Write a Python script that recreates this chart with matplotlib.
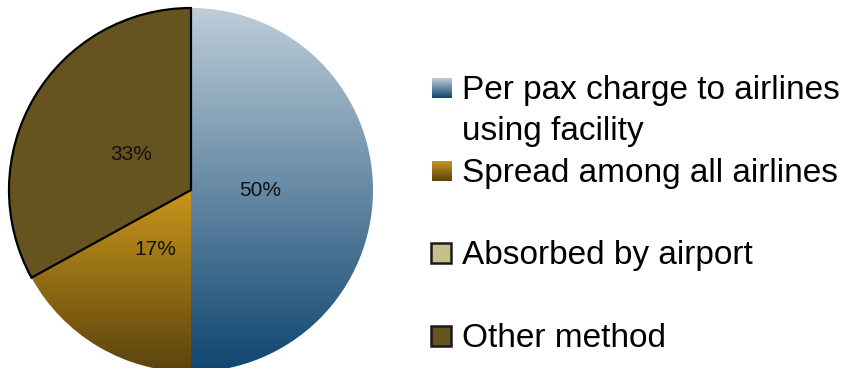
import numpy as np
import matplotlib
matplotlib.use('Agg')
from matplotlib import pyplot as plt
from matplotlib.colors import LinearSegmentedColormap
from matplotlib.patches import Rectangle

# chart data
labels = ['Per pax charge to airlines\nusing facility',
          'Spread among all airlines',
          'Absorbed by airport',
          'Other method']
shares = [50, 17, 0, 33]

# fills: top and bottom colour of each gradient
top_colors = ['#BDCDD9', '#C9961B', '#C8BE8A', '#665420']
bottom_colors = ['#0F4570', '#5B430F', '#C8BE8A', '#665420']
edge_colors = ['none', 'none', 'none', 'black']
legend_edges = ['none', 'none', '#1a1a1a', '#1a1a1a']

plt.rcParams['font.family'] = ['Liberation Sans', 'DejaVu Sans']

W, H = 849, 368
fig = plt.figure(figsize=(W / 100, H / 100), dpi=100)

# pie axes: centre (191, 190) px from top-left, radius 182 px
cx, cy, R = 191, 190, 182
pad = 1.05
ax = fig.add_axes([(cx - R * pad) / W, (H - cy - R * pad) / H,
                   2 * R * pad / W, 2 * R * pad / H])


def pct(p):
    return '' if p < 0.5 else '{:.0f}%'.format(p)


wedges, texts, autotexts = ax.pie(shares, startangle=90, counterclock=False,
                                  autopct=pct, pctdistance=0.38,
                                  textprops={'fontsize': 15, 'color': '#111111'})
ax.set_xlim(-pad, pad)
ax.set_ylim(-pad, pad)
ax.set_aspect('equal')
ax.axis('off')

for w, c0, c1, ec in zip(wedges, top_colors, bottom_colors, edge_colors):
    w.set_edgecolor(ec)
    w.set_linewidth(1.6 if ec != 'none' else 0)
    if c0 != c1:
        w.set_facecolor('none')
        x0, y0, x1, y1 = -1, -1, 1, 1
        # gradient spans the slice's own vertical extent
        verts = w.get_path().vertices
        y0, y1 = verts[:, 1].min(), verts[:, 1].max()
        cmap = LinearSegmentedColormap.from_list('g', [c1, c0])
        grad = np.linspace(0, 1, 256).reshape(-1, 1)
        im = ax.imshow(grad, cmap=cmap, origin='lower', aspect='auto',
                       extent=(-1, 1, y0, y1), zorder=0.5)
        im.set_clip_path(w)
    else:
        w.set_facecolor(c0)
    w.set_zorder(1)
for t in autotexts:
    t.set_zorder(3)

# legend drawn in pixel coordinates
lax = fig.add_axes([0, 0, 1, 1])
lax.set_xlim(0, W)
lax.set_ylim(H, 0)
lax.axis('off')

first_base, step, line_gap = 99, 82.7, 41
for i, lab in enumerate(labels):
    base = first_base + i * step
    c0, c1 = top_colors[i], bottom_colors[i]
    if c0 != c1:
        cmap = LinearSegmentedColormap.from_list('l', [c0, c1])
        grad = np.linspace(0, 1, 64).reshape(-1, 1)
        lax.imshow(grad, cmap=cmap, aspect='auto',
                   extent=(432, 452, base - 1, base - 21))
    else:
        lax.add_patch(Rectangle((431, base - 21), 20, 20, facecolor=c0,
                                edgecolor=legend_edges[i], linewidth=1.8))
    for j, line in enumerate(lab.split('\n')):
        lax.text(462, base + j * line_gap, line, fontsize=24,
                 va='baseline', ha='left', color='black')
lax.set_xlim(0, W)
lax.set_ylim(H, 0)

fig.savefig('out.png', dpi=100)
